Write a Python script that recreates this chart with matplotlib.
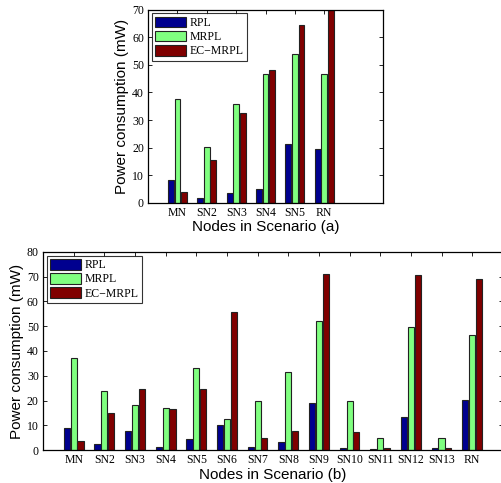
import matplotlib
matplotlib.use("Agg")
import matplotlib.pyplot as plt
import numpy as np

# data, scenario (a)
nodes_a = ["MN", "SN2", "SN3", "SN4", "SN5", "RN"]
rpl_a = [8.2, 1.8, 3.4, 5.1, 21.5, 19.5]
mrpl_a = [37.7, 20.1, 36.0, 46.6, 53.9, 46.7]
ecmrpl_a = [3.9, 15.7, 32.4, 48.2, 64.5, 70.0]

# data, scenario (b)
nodes_b = ["MN", "SN2", "SN3", "SN4", "SN5", "SN6", "SN7", "SN8", "SN9",
           "SN10", "SN11", "SN12", "SN13", "RN"]
rpl_b = [8.9, 2.6, 7.7, 1.2, 4.4, 10.3, 1.3, 3.1, 19.1, 0.9, 0.5, 13.4, 0.7, 20.4]
mrpl_b = [37.3, 24.0, 18.1, 16.8, 33.2, 12.6, 19.8, 31.6, 52.2, 20.0, 5.0, 49.7, 4.7, 46.4]
ecmrpl_b = [3.7, 15.0, 24.6, 16.5, 24.6, 55.9, 4.7, 7.7, 71.2, 7.1, 0.7, 70.6, 0.7, 69.0]

series_names = ["RPL", "MRPL", "EC\u2212MRPL"]
colors = ["#00008F", "#80FF80", "#800000"]

serif = "Liberation Serif"
sans = "Liberation Sans"


def draw(ax, names, series, ymax, xmax, xlabel):
    x = np.arange(1, len(names) + 1)
    off = 0.222
    for i, vals in enumerate(series):
        ax.bar(x + (i - 1) * off, vals, width=0.2, color=colors[i],
               edgecolor="#222222", linewidth=0.8, label=series_names[i], zorder=2)
    ax.set_xlim(0, xmax)
    ax.set_ylim(0, ymax)
    ax.set_xticks(x)
    ax.set_xticklabels(names, fontfamily=serif, fontsize=8.5)
    ax.set_yticks(np.arange(0, ymax + 1, 10))
    ax.set_yticklabels([str(v) for v in range(0, ymax + 1, 10)], fontfamily=serif, fontsize=8.5)
    ax.tick_params(direction="in", top=True, right=True, length=3, width=0.6, pad=3)
    ax.set_xlabel(xlabel, fontfamily=sans, fontsize=11, labelpad=1)
    ax.set_ylabel("Power consumption (mW)", fontfamily=sans, fontsize=11, labelpad=2)
    for s in ax.spines.values():
        s.set_linewidth(0.9)
    leg = ax.legend(loc="upper left", prop={"family": serif, "size": 8.5},
                    frameon=True, fancybox=False, edgecolor="black",
                    handlelength=2.6, handleheight=1.0, handletextpad=0.3,
                    borderpad=0.3, labelspacing=0.15, borderaxespad=0.3)
    leg.get_frame().set_linewidth(0.8)


fig = plt.figure(figsize=(5.02, 4.83), dpi=100)

ax1 = fig.add_axes([0.295, 0.580, 0.468, 0.400])
draw(ax1, nodes_a, [rpl_a, mrpl_a, ecmrpl_a], 70, 8, "Nodes in Scenario (a)")

ax2 = fig.add_axes([0.0857, 0.0683, 0.916, 0.410])
draw(ax2, nodes_b, [rpl_b, mrpl_b, ecmrpl_b], 80, 15, "Nodes in Scenario (b)")

fig.savefig("out.png", dpi=100)
